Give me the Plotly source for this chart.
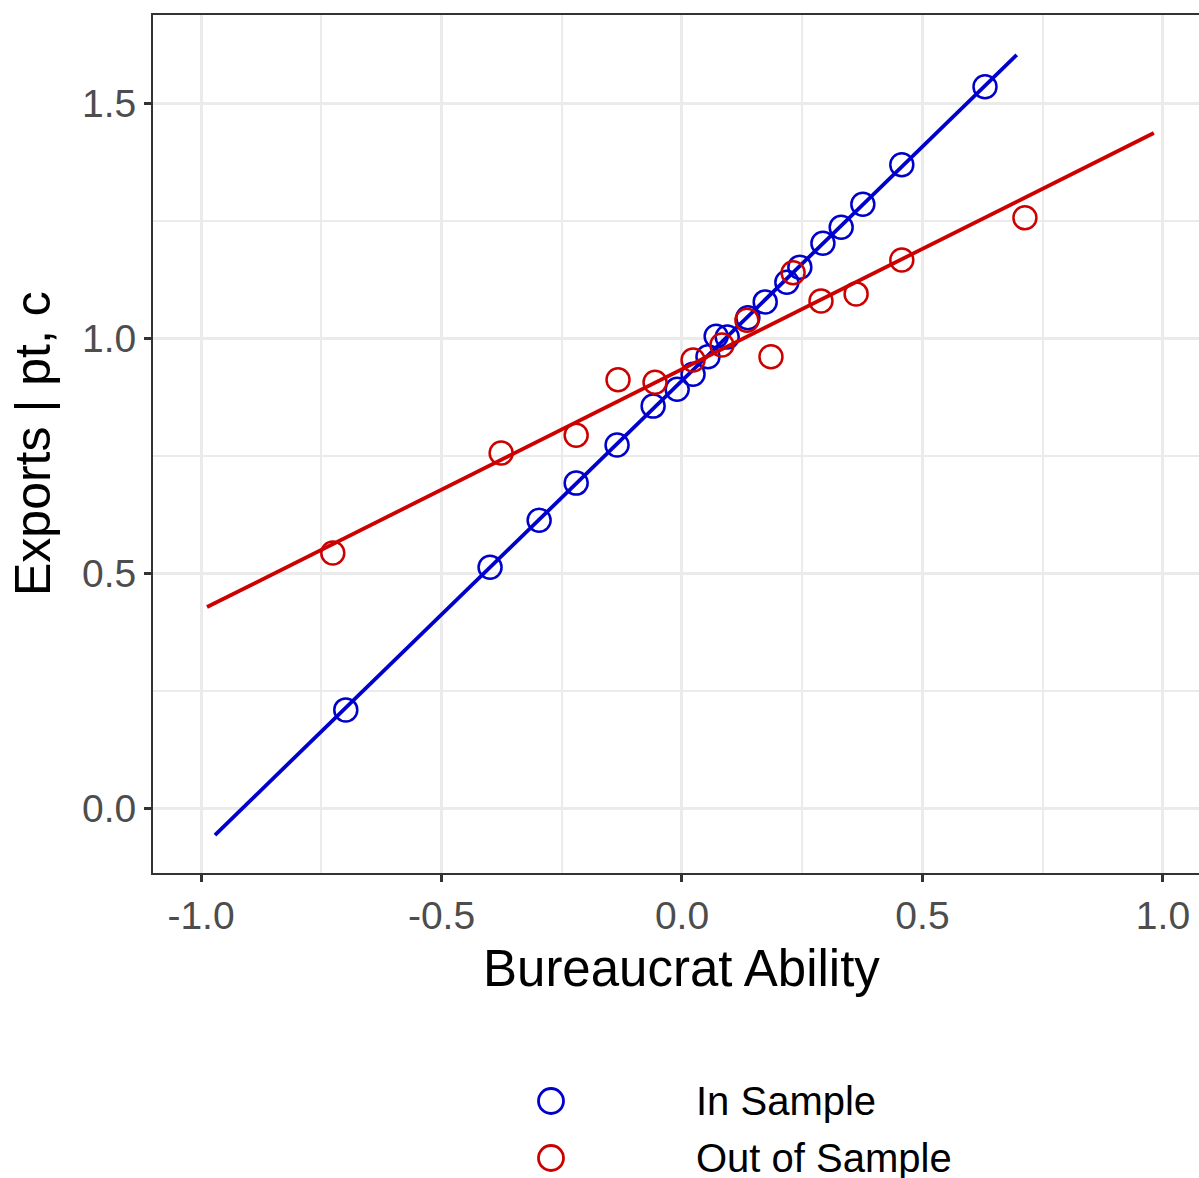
import plotly.graph_objects as go

# ---- data ----
in_x = [-0.699, -0.399, -0.297, -0.220, -0.135, -0.060, -0.010, 0.023, 0.054, 0.071,
        0.094, 0.137, 0.173, 0.218, 0.245, 0.293, 0.331, 0.376, 0.457, 0.630]
in_y = [0.209, 0.513, 0.613, 0.692, 0.773, 0.856, 0.892, 0.924, 0.961, 1.005,
        1.003, 1.044, 1.078, 1.120, 1.152, 1.203, 1.237, 1.286, 1.370, 1.536]

out_x = [-0.726, -0.376, -0.220, -0.133, -0.056, 0.023, 0.083, 0.135, 0.185, 0.231,
         0.289, 0.362, 0.457, 0.713]
out_y = [0.543, 0.756, 0.794, 0.912, 0.907, 0.954, 0.986, 1.039, 0.961, 1.140,
         1.080, 1.095, 1.167, 1.257]

# fitted lines: endpoints
in_fit_x = [-0.971, 0.696]
in_fit_y = [-0.0575, 1.604]
out_fit_x = [-0.9875, 0.981]
out_fit_y = [0.428, 1.4377]

series_names = ["In Sample", "Out of Sample"]
x_ticks = [-1.0, -0.5, 0.0, 0.5, 1.0]
x_tick_text = ["-1.0", "-0.5", "0.0", "0.5", "1.0"]
y_ticks = [0.0, 0.5, 1.0, 1.5]
y_tick_text = ["0.0", "0.5", "1.0", "1.5"]
x_minor = [-0.75, -0.25, 0.25, 0.75]
y_minor = [0.25, 0.75, 1.25]

BLUE = "#0000CD"
RED = "#CD0000"
FONT = "Liberation Sans, Arial, Helvetica, sans-serif"

fig = go.Figure()
fig.add_trace(go.Scatter(x=in_x, y=in_y, mode="markers", name=series_names[0],
                         marker=dict(symbol="circle-open", size=23, color=BLUE,
                                     line=dict(width=2.5, color=BLUE)),
                         showlegend=False))
fig.add_trace(go.Scatter(x=in_fit_x, y=in_fit_y, mode="lines",
                         line=dict(color=BLUE, width=3.8), showlegend=False))
fig.add_trace(go.Scatter(x=out_x, y=out_y, mode="markers", name=series_names[1],
                         marker=dict(symbol="circle-open", size=23, color=RED,
                                     line=dict(width=2.5, color=RED)),
                         showlegend=False))
fig.add_trace(go.Scatter(x=out_fit_x, y=out_fit_y, mode="lines",
                         line=dict(color=RED, width=3.8), showlegend=False))

axis_common = dict(
    showgrid=True, gridcolor="#EBEBEB", gridwidth=3,
    zeroline=False, showline=True, linecolor="#333333", linewidth=2,
    ticks="outside", ticklen=7, tickwidth=2.5, tickcolor="#333333",
    tickfont=dict(family=FONT, size=39, color="#4D4D4D"),
)

fig.update_xaxes(range=[-1.0998, 1.0749], tickvals=x_ticks, ticktext=x_tick_text,
                 mirror=True,
                 minor=dict(tickvals=x_minor, showgrid=True, gridcolor="#EBEBEB",
                            gridwidth=1.8, ticks=""),
                 **axis_common)
fig.update_yaxes(range=[-0.1384, 1.689], tickvals=y_ticks, ticktext=y_tick_text,
                 minor=dict(tickvals=y_minor, showgrid=True, gridcolor="#EBEBEB",
                            gridwidth=1.8, ticks=""),
                 **axis_common)

W, H = 1199, 1178
L, R, T, B = 153, 0, 15, 305
pw, ph = W - L - R, H - T - B

def px_x(p):
    return (p - L) / pw

def px_y(p):
    return (H - B - p) / ph

annotations = [
    dict(text="Bureaucrat Ability", x=px_x(681), y=px_y(968), xref="paper", yref="paper",
         showarrow=False, xanchor="center", yanchor="middle",
         font=dict(family=FONT, size=51, color="black")),
    dict(text="Exports | pt, c", x=px_x(33), y=px_y(444), xref="paper", yref="paper",
         showarrow=False, xanchor="center", yanchor="middle", textangle=-90,
         font=dict(family=FONT, size=50, color="black")),
]
shapes = []
legend_rows = [1101, 1158]
for name, col, row in zip(series_names, [BLUE, RED], legend_rows):
    shapes.append(dict(type="circle", xref="paper", yref="paper",
                       xsizemode="pixel", ysizemode="pixel",
                       xanchor=px_x(551), yanchor=px_y(row),
                       x0=-12.5, x1=12.5, y0=-12.5, y1=12.5,
                       line=dict(color=col, width=2.8)))
    annotations.append(dict(text=name, x=px_x(694), y=px_y(row), xref="paper", yref="paper",
                            showarrow=False, xanchor="left", yanchor="middle",
                            font=dict(family=FONT, size=40, color="black")))

fig.update_layout(
    width=W, height=H,
    margin=dict(l=L, r=R, t=T, b=B, pad=0),
    paper_bgcolor="white", plot_bgcolor="white",
    showlegend=False,
    annotations=annotations, shapes=shapes,
    font=dict(family=FONT),
)

fig.write_html("out.html",
               config={"displayModeBar": False},
               post_script="document.body.style.margin='0';document.body.style.overflow='hidden';")
